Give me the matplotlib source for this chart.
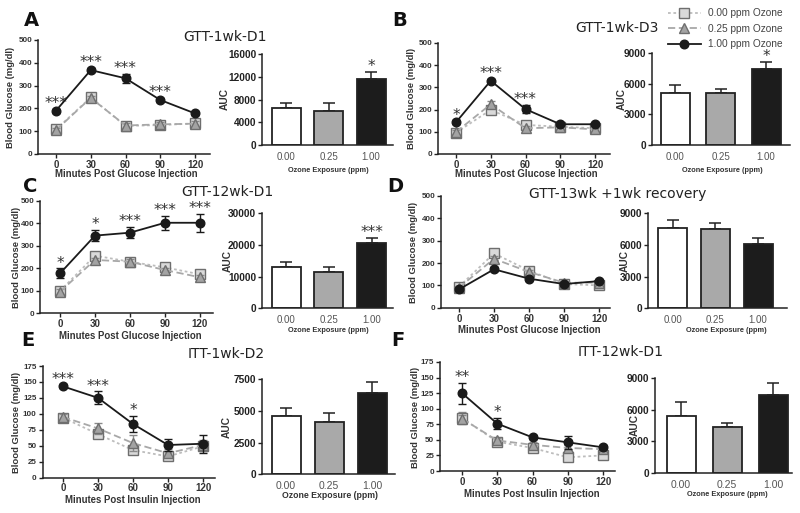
import matplotlib
matplotlib.use("Agg")
import matplotlib.pyplot as plt
import numpy as np

# ---------------- data ----------------
time = [0, 30, 60, 90, 120]
doses = ['0.00', '0.25', '1.00']
series_labels = ['0.00 ppm Ozone', '0.25 ppm Ozone', '1.00 ppm Ozone']

A_000 = [108, 248, 123, 127, 134]
A_025 = [105, 246, 125, 130, 133]
A_100 = [190, 368, 332, 237, 178]
A_err_000 = [10, 10, 10, 10, 10]
A_err_025 = [10, 10, 10, 10, 10]
A_err_100 = [8, 8, 20, 8, 8]
A_auc = [6470, 6060, 11590]
A_auc_err = [1000, 1400, 1300]
A_sig_line = ['***', '***', '***', '***', '']
A_sig_bar = ['', '', '*']

B_000 = [96, 199, 131, 123, 116]
B_025 = [99, 224, 116, 120, 111]
B_100 = [143, 330, 202, 134, 134]
B_err_000 = [8, 15, 12, 8, 8]
B_err_025 = [8, 15, 10, 8, 8]
B_err_100 = [8, 8, 18, 8, 8]
B_auc = [5090, 5090, 7370]
B_auc_err = [750, 390, 750]
B_sig_line = ['*', '***', '***', '', '']
B_sig_bar = ['', '', '*']

C_000 = [99, 256, 229, 204, 173]
C_025 = [96, 237, 229, 192, 160]
C_100 = [177, 345, 358, 402, 402]
C_err_000 = [10, 10, 10, 10, 10]
C_err_025 = [10, 10, 10, 10, 10]
C_err_100 = [22, 25, 25, 32, 40]
C_auc = [13160, 11580, 20530]
C_auc_err = [1540, 1370, 1570]
C_sig_line = ['*', '*', '***', '***', '***']
C_sig_bar = ['', '', '***']

D_000 = [94, 243, 166, 106, 100]
D_025 = [90, 219, 160, 112, 112]
D_100 = [82, 172, 130, 106, 119]
D_err_000 = [8, 12, 10, 8, 8]
D_err_025 = [8, 12, 10, 8, 8]
D_err_100 = [8, 8, 8, 8, 8]
D_auc = [7640, 7520, 6100]
D_auc_err = [730, 530, 540]
D_sig_line = ['', '', '', '', '']
D_sig_bar = ['', '', '']

E_000 = [94, 68, 43, 33, 49]
E_025 = [95, 77, 54, 38, 51]
E_100 = [143, 125, 84, 51, 53]
E_err_000 = [4, 5, 6, 5, 8]
E_err_025 = [4, 9, 12, 6, 8]
E_err_100 = [3, 10, 12, 10, 14]
E_auc = [4600, 4130, 6450]
E_auc_err = [610, 740, 820]
E_sig_line = ['***', '***', '*', '', '']
E_sig_bar = ['', '', '']

F_000 = [85, 47, 37, 22, 25]
F_025 = [84, 49, 42, 37, 35]
F_100 = [125, 76, 54, 46, 38]
F_err_000 = [10, 5, 5, 4, 4]
F_err_025 = [6, 4, 5, 5, 4]
F_err_100 = [17, 9, 3, 10, 3]
F_auc = [5390, 4390, 7370]
F_auc_err = [1320, 380, 1160]
F_sig_line = ['**', '*', '', '', '']
F_sig_bar = ['', '', '']

titles = {'A': 'GTT-1wk-D1', 'B': 'GTT-1wk-D3', 'C': 'GTT-12wk-D1',
          'D': 'GTT-13wk +1wk recovery', 'E': 'ITT-1wk-D2', 'F': 'ITT-12wk-D1'}
xlab_glu = 'Minutes Post Glucose Injection'
xlab_ins = 'Minutes Post Insulin Injection'
ylab_line = 'Blood Glucose (mg/dl)'
ylab_bar = 'AUC'
xlab_bar = 'Ozone Exposure (ppm)'

# ---------------- layout (pixels) ----------------
W, H = 800, 513
plt.rcParams['font.family'] = ['Liberation Sans', 'DejaVu Sans']
fig = plt.figure(figsize=(W / 100, H / 100), dpi=100)
fig.patch.set_facecolor('white')

def px_axes(left, right, top, bottom):
    return fig.add_axes([left / W, 1 - bottom / H, (right - left) / W, (bottom - top) / H])

def ftext(x, y, s, **kw):
    fig.text(x / W, 1 - y / H, s, **kw)

styles = [
    dict(marker='s', ms=6.8, mfc='#d9d9d9', mec='#6e6e6e', mew=1.0, color='#bdbdbd', ls=(0, (1.5, 1.5)), lw=1.3, ecolor='#8a8a8a', z=3),
    dict(marker='^', ms=6.8, mfc='#a3a3a3', mec='#6e6e6e', mew=1.0, color='#a8a8a8', ls=(0, (4, 2)), lw=1.3, ecolor='#8a8a8a', z=4),
    dict(marker='o', ms=6.2, mfc='#1a1a1a', mec='#1a1a1a', mew=1.0, color='#1a1a1a', ls='-', lw=1.3, ecolor='#1a1a1a', z=5),
]

def style_axes(ax):
    for s in ['top', 'right']:
        ax.spines[s].set_visible(False)
    for s in ['left', 'bottom']:
        ax.spines[s].set_linewidth(1.1)
        ax.spines[s].set_color('#222222')
    ax.tick_params(direction='out', length=3, width=1.0, colors='#222222', pad=1.2)
    ax.set_facecolor('none')

def line_panel(geom, data, errs, sig, ymax, ystep):
    left, right, top, bottom, x0, x120 = geom
    ax = px_axes(left, right, top, bottom)
    s = (x120 - x0) / 120.0
    ax.set_xlim((left - x0) / s, (right - x0) / s)
    ax.set_ylim(0, ymax)
    ax.set_xticks(time)
    ax.set_yticks(np.arange(0, ymax + 1, ystep))
    style_axes(ax)
    for lab in ax.get_yticklabels():
        lab.set_fontsize(5.8); lab.set_fontweight('bold'); lab.set_color('#333333')
    for lab in ax.get_xticklabels():
        lab.set_fontsize(7); lab.set_fontweight('bold'); lab.set_color('#333333')
    handles = []
    for vals, e, st, lbl in zip(data, errs, styles, series_labels):
        ax.errorbar(time, vals, yerr=e, fmt='none', ecolor=st['ecolor'], elinewidth=1.0,
                    capsize=3, capthick=1.0, zorder=st['z'])
        h, = ax.plot(time, vals, marker=st['marker'], ms=st['ms'], mfc=st['mfc'], mec=st['mec'],
                     mew=st['mew'], color=st['color'], ls=st['ls'], lw=st['lw'], zorder=st['z'],
                     clip_on=False, label=lbl)
        handles.append(h)
    top_vals = [v + e for v, e in zip(data[2], errs[2])]
    for t, tv, sg in zip(time, top_vals, sig):
        if sg:
            ax.annotate(sg, (t, tv), xytext=(0, -1.5), textcoords='offset points',
                        ha='center', va='bottom', fontsize=11, color='#333333',
                        family='DejaVu Sans', annotation_clip=False)
    return ax, handles

def bar_panel(geom, vals, err, sig, ymax, ystep, xfs=7):
    left, right, top, bottom, c0, c2 = geom
    ax = px_axes(left, right, top, bottom)
    s = (c2 - c0) / 2.0
    ax.set_xlim((left - c0) / s, (right - c0) / s)
    ax.set_ylim(0, ymax)
    x = np.arange(3)
    ax.errorbar(x, vals, yerr=[np.zeros(3), err], fmt='none', ecolor='#222222',
                elinewidth=1.1, capsize=4.5, capthick=1.1, zorder=1)
    ax.bar(x, vals, width=29 / s, color=['#ffffff', '#a9a9a9', '#1c1c1c'],
           edgecolor='#222222', linewidth=1.3, zorder=2)
    ax.set_xticks(x)
    ax.set_xticklabels(doses)
    ax.set_yticks(np.arange(0, ymax + 1, ystep))
    style_axes(ax)
    ax.tick_params(axis='x', length=0, pad=5)
    for lab in ax.get_yticklabels():
        lab.set_fontsize(7.3); lab.set_fontweight('bold'); lab.set_color('#222222')
    for lab in ax.get_xticklabels():
        lab.set_fontsize(xfs); lab.set_color('#555555')
    for xi, v, e, sg in zip(x, vals, err, sig):
        if sg:
            ax.annotate(sg, (xi, v + e), xytext=(0, -1.5), textcoords='offset points',
                        ha='center', va='bottom', fontsize=11, color='#333333',
                        family='DejaVu Sans', annotation_clip=False)
    return ax

# line panels: left, right, top(ymax px), bottom(0 px), x-pixel of t=0, x-pixel of t=120
axA, handles = line_panel((38, 210, 40, 154, 56, 195), [A_000, A_025, A_100],
                          [A_err_000, A_err_025, A_err_100], A_sig_line, 500, 100)
line_panel((438, 610, 43, 154, 456, 595), [B_000, B_025, B_100],
           [B_err_000, B_err_025, B_err_100], B_sig_line, 500, 100)
line_panel((40, 213, 200.7, 313.3, 60, 200), [C_000, C_025, C_100],
           [C_err_000, C_err_025, C_err_100], C_sig_line, 500, 100)
line_panel((441, 610, 196, 307.7, 459, 599), [D_000, D_025, D_100],
           [D_err_000, D_err_025, D_err_100], D_sig_line, 500, 100)
line_panel((42.5, 215, 366, 477.5, 63, 203), [E_000, E_025, E_100],
           [E_err_000, E_err_025, E_err_100], E_sig_line, 175, 25)
line_panel((440, 615, 362, 471, 462, 603), [F_000, F_025, F_100],
           [F_err_000, F_err_025, F_err_100], F_sig_line, 175, 25)

# bar panels: left, right, top, bottom, centre px of bar 0, centre px of bar 2
bar_panel((262, 393, 54, 145, 286, 371), A_auc, A_auc_err, A_sig_bar, 16000, 4000)
bar_panel((652, 790, 52.7, 145.3, 675, 766), B_auc, B_auc_err, B_sig_bar, 9000, 3000)
bar_panel((262, 393, 213.3, 308.3, 286, 371.7), C_auc, C_auc_err, C_sig_bar, 30000, 10000)
bar_panel((648, 787, 213.3, 308.3, 672.5, 758), D_auc, D_auc_err, D_sig_bar, 9000, 3000)
bar_panel((262, 395, 379.3, 474.3, 286, 372), E_auc, E_auc_err, E_sig_bar, 7500, 2500, xfs=7.5)
bar_panel((655, 792, 377.7, 473.3, 681, 773), F_auc, F_auc_err, F_sig_bar, 9000, 3000, xfs=7.5)

# ---------------- texts ----------------
letter_pos = {'A': (31, 21), 'B': (400, 21), 'C': (30, 187), 'D': (395, 186), 'E': (28, 341), 'F': (398, 341)}
for k, (x, y) in letter_pos.items():
    ftext(x, y, k, fontsize=14, fontweight='bold', ha='center', va='center', family='DejaVu Sans', color='#111111')

title_pos = {'A': (225, 37), 'B': (617, 28), 'C': (227, 192), 'D': (618, 194), 'E': (226, 354), 'F': (621, 352)}
for k, (x, y) in title_pos.items():
    ftext(x, y, titles[k], fontsize=10, ha='center', va='center', family='DejaVu Sans', color='#222222')

xl_line = [(126, 174, xlab_glu), (526, 174, xlab_glu), (130, 336, xlab_glu), (529, 330, xlab_glu),
           (133, 500, xlab_ins), (532, 494, xlab_ins)]
for x, y, s in xl_line:
    ftext(x, y, s, fontsize=6.9, fontweight='bold', ha='center', va='center', color='#333333')

xl_bar = [(328, 171), (722, 171), (328, 331), (726, 330), (330, 496), (727, 494)]
for i, (x, y) in enumerate(xl_bar):
    ftext(x, y, xlab_bar, fontsize=5.3 if i != 4 else 6.3, fontweight='bold', ha='center', va='center', color='#333333')

yl_line = [(11, 97), (412, 98), (17, 257), (414, 252), (17, 422), (416, 417)]
for x, y in yl_line:
    ftext(x, y, ylab_line, fontsize=6.8, fontweight='bold', rotation=90, ha='center', va='center', color='#333333')

yl_bar = [(225, 99), (622, 99), (228, 261), (625, 261), (227, 427), (635, 425)]
for x, y in yl_bar:
    ftext(x, y, ylab_bar, fontsize=7.3, fontweight='bold', rotation=90, ha='center', va='center', color='#333333')

# legend
leg = fig.legend(handles=handles, labels=series_labels, loc='upper left',
                 bbox_to_anchor=(664 / W, 1 - 4 / H), frameon=False, fontsize=7.3,
                 handlelength=3.2, handletextpad=0.7, labelspacing=0.55, borderaxespad=0)
for t in leg.get_texts():
    t.set_color('#444444')

fig.savefig('out.png', dpi=100, facecolor='white')
